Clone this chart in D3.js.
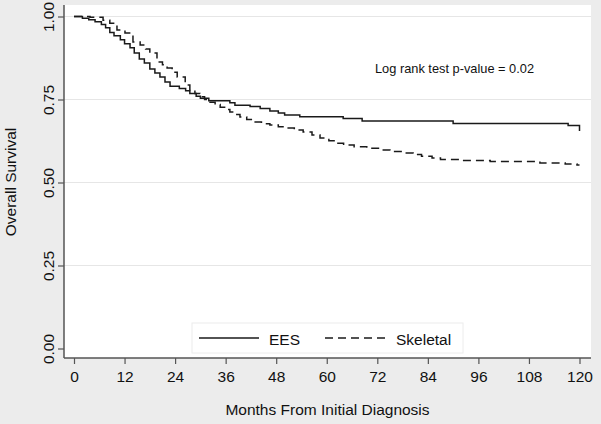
<!DOCTYPE html>
<html>
<head>
<meta charset="utf-8">
<script src="https://cdn.jsdelivr.net/npm/d3@7"></script>
<style>
  html, body { margin: 0; padding: 0; background: #ececec; }
  svg { display: block; }
  text { font-family: "Liberation Sans", Arial, Helvetica, sans-serif; fill: #111; }
</style>
</head>
<body>
<svg id="chart" width="601" height="424"></svg>
<script>
// ---- data ----
const xTicks = [0, 12, 24, 36, 48, 60, 72, 84, 96, 108, 120];
const yTicks = [0, 0.25, 0.5, 0.75, 1.0];
const seriesNames = ["EES", "Skeletal"];

const eesTime = [0, 2, 3.5, 5, 6.5, 7.5, 8.5, 9.5, 11, 12, 13.3, 14.3, 15.5, 16.7, 18, 19.2, 20.4, 21.6, 22.8, 25, 26.5, 27.5, 29, 30, 32, 37, 38.2, 41.8, 44.2, 46.5, 48.5, 50, 53.6, 63.9, 68.4, 90, 117.3, 120];
const eesSurv = [1.000, 0.995, 0.990, 0.984, 0.976, 0.966, 0.952, 0.942, 0.930, 0.918, 0.906, 0.890, 0.872, 0.860, 0.842, 0.830, 0.818, 0.803, 0.790, 0.783, 0.776, 0.768, 0.760, 0.754, 0.746, 0.740, 0.733, 0.729, 0.723, 0.715, 0.709, 0.703, 0.698, 0.693, 0.685, 0.678, 0.672, 0.655];

const skelTime = [0, 3.8, 6.9, 8.5, 10.2, 12.1, 14.0, 15.7, 17, 18.0, 19.7, 21, 22.1, 23.3, 24.5, 26.4, 27.5, 28.7, 29.9, 31, 32.3, 33.5, 34.7, 36, 37.0, 38.2, 39.4, 41, 42.5, 44.5, 46.5, 48.5, 50.6, 52.3, 54.4, 56.5, 58.4, 60.5, 62, 64, 66.5, 69.5, 72.6, 75, 78, 80.5, 82.5, 85, 87, 91.6, 98.8, 110.6, 116.6, 119.4, 120];
const skelSurv = [1.000, 0.998, 0.989, 0.980, 0.959, 0.950, 0.923, 0.914, 0.902, 0.890, 0.863, 0.855, 0.845, 0.832, 0.818, 0.794, 0.779, 0.768, 0.758, 0.750, 0.742, 0.735, 0.727, 0.720, 0.712, 0.705, 0.697, 0.690, 0.682, 0.677, 0.673, 0.668, 0.664, 0.658, 0.652, 0.643, 0.634, 0.626, 0.618, 0.613, 0.608, 0.603, 0.598, 0.593, 0.589, 0.584, 0.579, 0.574, 0.569, 0.566, 0.563, 0.559, 0.556, 0.553, 0.553];

const annotation = "Log rank test p-value = 0.02";
const xTitle = "Months From Initial Diagnosis";
const yTitle = "Overall Survival";

// ---- layout ----
const svg = d3.select("#chart");
const W = 601, H = 424;
const plot = { left: 64, right: 591, top: 5, bottom: 358 };

const x = d3.scaleLinear().domain([0, 120]).range([74, 579.5]);
const y = d3.scaleLinear().domain([0, 1]).range([348.5, 16.5]);

svg.append("rect").attr("width", W).attr("height", H).attr("fill", "#ececec");
svg.append("rect")
  .attr("x", plot.left).attr("y", plot.top)
  .attr("width", plot.right - plot.left).attr("height", plot.bottom - plot.top)
  .attr("fill", "#ffffff");

// gridlines
svg.append("g").selectAll("line")
  .data(yTicks.filter(d => d > 0))
  .join("line")
  .attr("x1", plot.left).attr("x2", plot.right)
  .attr("y1", d => y(d)).attr("y2", d => y(d))
  .attr("stroke", "#e6e6e6").attr("stroke-width", 1);

// y axis
const yAxis = d3.axisLeft(y).tickValues(yTicks).tickSize(6).tickFormat(d3.format(".2f"));
const gy = svg.append("g").attr("transform", `translate(${plot.left},0)`).call(yAxis);
gy.select(".domain").attr("d", `M0,${plot.top}V${plot.bottom}`).attr("stroke", "#555").attr("stroke-width", 1.5);
gy.selectAll(".tick line").attr("stroke", "#555").attr("stroke-width", 1.2);
gy.selectAll(".tick text")
  .attr("x", null).attr("dy", null)
  .attr("transform", `translate(-10.5,0) rotate(-90)`)
  .attr("text-anchor", "middle")
  .attr("font-size", "15.5px")
  .attr("fill", "#111");

// x axis
const xAxis = d3.axisBottom(x).tickValues(xTicks).tickSize(6).tickFormat(d3.format("d"));
const gx = svg.append("g").attr("transform", `translate(0,${plot.bottom})`).call(xAxis);
gx.select(".domain").attr("d", `M${plot.left},0H${plot.right}`).attr("stroke", "#555").attr("stroke-width", 1.5);
gx.selectAll(".tick line").attr("stroke", "#555").attr("stroke-width", 1.2);
gx.selectAll(".tick text")
  .attr("y", 24).attr("dy", null)
  .attr("font-size", "15.5px")
  .attr("fill", "#111");
svg.selectAll(".tick text").attr("font-family", null);
svg.selectAll("g").attr("font-family", null).attr("font-size", null);

// titles
svg.append("text")
  .attr("x", (plot.left + plot.right) / 2).attr("y", 415)
  .attr("text-anchor", "middle").attr("font-size", "15.5px")
  .text(xTitle);
svg.append("text")
  .attr("transform", `translate(15.5,182) rotate(-90)`)
  .attr("text-anchor", "middle").attr("font-size", "15.5px")
  .text(yTitle);

// curves
const line = d3.line().x(d => x(d[0])).y(d => y(d[1])).curve(d3.curveStepAfter);
const eesData = d3.zip(eesTime, eesSurv);
const skelData = d3.zip(skelTime, skelSurv);

svg.append("path").datum(eesData)
  .attr("d", line).attr("fill", "none")
  .attr("stroke", "#1a1a1a").attr("stroke-width", 1.5);
svg.append("path").datum(skelData)
  .attr("d", line).attr("fill", "none")
  .attr("stroke", "#1a1a1a").attr("stroke-width", 1.5)
  .attr("stroke-dasharray", "8,5");

// annotation
svg.append("text")
  .attr("x", 375).attr("y", 72.5)
  .attr("font-size", "12.8px")
  .text(annotation);

// legend
const lg = svg.append("g");
lg.append("rect")
  .attr("x", 192).attr("y", 323).attr("width", 271).attr("height", 30)
  .attr("fill", "#ffffff").attr("stroke", "#ececec").attr("stroke-width", 1);
const legendItems = [
  { name: seriesNames[0], x1: 199, x2: 259, tx: 269, dash: null },
  { name: seriesNames[1], x1: 325, x2: 387, tx: 396, dash: "8,5" }
];
legendItems.forEach(it => {
  lg.append("line")
    .attr("x1", it.x1).attr("x2", it.x2).attr("y1", 338).attr("y2", 338)
    .attr("stroke", "#1a1a1a").attr("stroke-width", 1.5)
    .attr("stroke-dasharray", it.dash);
  lg.append("text")
    .attr("x", it.tx).attr("y", 344.5)
    .attr("font-size", "15.5px")
    .text(it.name);
});
</script>
</body>
</html>
